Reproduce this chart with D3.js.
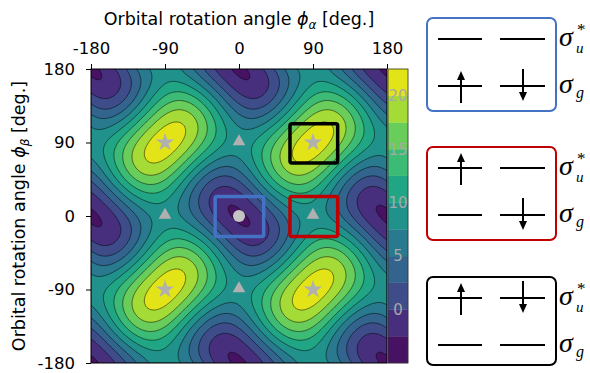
<!DOCTYPE html>
<html>
<head>
<meta charset="utf-8">
<script src="https://cdn.jsdelivr.net/npm/d3@7"></script>
<style>
  body { margin: 0; background: #fff; }
  svg { display: block; }
  text { font-family: "DejaVu Sans", sans-serif; }
</style>
</head>
<body>
<svg id="chart" width="590" height="373"></svg>
<script>
// --- data ---
const angleTicks = [-180, -90, 0, 90, 180];
const levels = [-5, -2.5, 0, 2.5, 5, 7.5, 10, 12.5, 15, 17.5, 20, 22.5];
const colorbarTicks = [0, 5, 10, 15, 20];

// energy at minimum / saddle / maximum, and the alpha-beta coupling term
const stationaryEnergy = [-2.8, 8.75, 21.5];
const coupling = [4.25];

const minima = [[0, 0]];
const saddles = [[0, 90], [0, -90], [90, 0], [-90, 0]];
const maxima = [[90, 90], [-90, 90], [90, -90], [-90, -90]];

// highlighted regions [phiA range, phiB range]
const boxPhiA = [[-29, 30], [62, 120], [62, 120]];
const boxPhiB = [[-25, 24], [-25, 24], [65, 113]];

// occupation diagrams: which level the alpha / beta electron sits in
const alphaLevel = ['g', 'u', 'u'];
const betaLevel = ['g', 'g', 'u'];

// ---------------------------------
const boxColours = ['#4472c4', '#c00000', '#000000'];
const markerColour = '#b0b0b0';

const svg = d3.select('#chart');
const plot = { left: 91, right: 387, top: 69, bottom: 363 };

const x = d3.scaleLinear().domain([-180, 180]).range([plot.left, plot.right]);
const y = d3.scaleLinear().domain([-180, 180]).range([plot.bottom, plot.top]);
const rad = Math.PI / 180;

function energy(a, b) {
  const [eMin, eSad, eMax] = stationaryEnergy;
  const sa = Math.sin(a) ** 2;
  const sb = Math.sin(b) ** 2;
  return eMin + (eSad - eMin) * (sa + sb) + (eMax - 2 * eSad + eMin) * sa * sb
    + coupling[0] * Math.sin(2 * a) * Math.sin(2 * b);
}

// grid, 1 degree step
const n = 361;
const grid = new Float64Array(n * n);
for (let j = 0; j < n; j++) {
  for (let i = 0; i < n; i++) {
    grid[j * n + i] = energy((-180 + i) * rad, (-180 + j) * rad);
  }
}

const contours = d3.contours().size([n, n]).thresholds(levels)(grid);

const path = d3.geoPath(d3.geoTransform({
  point(cx, cy) {
    this.stream.point(x(-180 + cx - 0.5), y(-180 + cy - 0.5));
  }
}));

const bandColour = (i) => d3.interpolateViridis((i + 0.5) / (levels.length - 1));

svg.append('clipPath').attr('id', 'clip')
  .append('rect')
  .attr('x', plot.left).attr('y', plot.top)
  .attr('width', plot.right - plot.left).attr('height', plot.bottom - plot.top);

const g = svg.append('g').attr('clip-path', 'url(#clip)');

g.selectAll('path.band')
  .data(contours.slice(0, levels.length - 1))
  .join('path')
  .attr('class', 'band')
  .attr('d', path)
  .attr('fill', (d, i) => bandColour(i))
  .attr('stroke', (d, i) => bandColour(i))
  .attr('stroke-width', 0.3);

g.selectAll('path.line')
  .data(contours.slice(1, levels.length - 1))
  .join('path')
  .attr('class', 'line')
  .attr('d', path)
  .attr('fill', 'none')
  .attr('stroke', '#000')
  .attr('stroke-opacity', 0.75)
  .attr('stroke-width', 0.7);

// stationary point markers
const sym = (type, size) => d3.symbol().type(type).size(size)();
g.selectAll('path.star')
  .data(maxima).join('path')
  .attr('transform', (d) => `translate(${x(d[0])},${y(d[1])})`)
  .attr('d', sym(d3.symbolStar, 105))
  .attr('fill', markerColour);
g.selectAll('path.tri')
  .data(saddles).join('path')
  .attr('transform', (d) => `translate(${x(d[0])},${y(d[1]) - 1})`)
  .attr('d', sym(d3.symbolTriangle, 70))
  .attr('fill', markerColour);
g.selectAll('circle.min')
  .data(minima).join('circle')
  .attr('cx', (d) => x(d[0])).attr('cy', (d) => y(d[1]))
  .attr('r', 6)
  .attr('fill', '#c4c4c4');

// highlight boxes
svg.selectAll('rect.hl')
  .data(boxPhiA).join('rect')
  .attr('x', (d) => x(d[0]))
  .attr('y', (d, i) => y(boxPhiB[i][1]))
  .attr('width', (d) => x(d[1]) - x(d[0]))
  .attr('height', (d, i) => y(boxPhiB[i][0]) - y(boxPhiB[i][1]))
  .attr('rx', 2)
  .attr('fill', 'none')
  .attr('stroke', (d, i) => boxColours[i])
  .attr('stroke-width', 3.5);

// frame
svg.append('rect')
  .attr('x', plot.left).attr('y', plot.top)
  .attr('width', plot.right - plot.left).attr('height', plot.bottom - plot.top)
  .attr('fill', 'none').attr('stroke', '#000').attr('stroke-width', 1);

const xAxis = svg.append('g')
  .attr('transform', `translate(0,${plot.top})`)
  .call(d3.axisTop(x).tickValues(angleTicks).tickSize(5).tickPadding(10).tickFormat(d3.format('d')));
const yAxis = svg.append('g')
  .attr('transform', `translate(${plot.left},0)`)
  .call(d3.axisLeft(y).tickValues(angleTicks).tickSize(5).tickPadding(11).tickFormat(d3.format('d')));
[xAxis, yAxis].forEach((ax) => {
  ax.select('.domain').remove();
  ax.selectAll('text')
    .text((d) => String(d))
    .attr('font-size', 16.5).attr('font-family', 'DejaVu Sans').attr('fill', '#000');
  ax.selectAll('line').attr('stroke', '#000');
});

// axis titles
const xt = svg.append('text')
  .attr('x', (plot.left + plot.right) / 2).attr('y', 25)
  .attr('text-anchor', 'middle').attr('font-size', 17.5);
xt.append('tspan').text('Orbital rotation angle ');
xt.append('tspan').attr('font-style', 'italic').text('\u03d5');
xt.append('tspan').attr('font-style', 'italic').attr('font-size', 12).attr('dy', 4).text('\u03b1');
xt.append('tspan').attr('dy', -4).text(' [deg.]');

const yt = svg.append('text')
  .attr('transform', `translate(25,${(plot.top + plot.bottom) / 2}) rotate(-90)`)
  .attr('text-anchor', 'middle').attr('font-size', 17.5);
yt.append('tspan').text('Orbital rotation angle ');
yt.append('tspan').attr('font-style', 'italic').text('\u03d5');
yt.append('tspan').attr('font-style', 'italic').attr('font-size', 12).attr('dy', 4).text('\u03b2');
yt.append('tspan').attr('dy', -4).text(' [deg.]');

// colour bar
const cb = { x: 388, w: 20 };
const cy = d3.scaleLinear().domain([levels[0], levels[levels.length - 1]]).range([plot.bottom, plot.top]);
svg.append('g').selectAll('rect')
  .data(levels.slice(0, -1)).join('rect')
  .attr('x', cb.x).attr('width', cb.w)
  .attr('y', (d, i) => cy(levels[i + 1]))
  .attr('height', (d, i) => cy(levels[i]) - cy(levels[i + 1]))
  .attr('fill', (d, i) => bandColour(i))
  .attr('stroke', (d, i) => bandColour(i)).attr('stroke-width', 0.3);
svg.append('rect')
  .attr('x', cb.x).attr('y', plot.top).attr('width', cb.w).attr('height', plot.bottom - plot.top)
  .attr('fill', 'none').attr('stroke', '#333').attr('stroke-width', 0.8);
svg.append('g').selectAll('text')
  .data(colorbarTicks).join('text')
  .attr('x', cb.x + 10).attr('y', (d) => cy(d))
  .attr('dy', '0.36em').attr('text-anchor', 'middle')
  .attr('font-size', 15).attr('fill', '#a8a8a8')
  .text((d) => d);

// occupation diagrams
const boxTop = [18, 147, 277];
const boxH = [93, 93, 88];
const lineOff = { u: 21, g: 68 };
const colX = [[438, 482], [500, 545]];
const arrowX = [461, 523];
const serif = '"Liberation Serif", "DejaVu Serif", serif';

const diag = svg.append('g');
boxTop.forEach((top, k) => {
  diag.append('rect')
    .attr('x', 427).attr('y', top).attr('width', 129).attr('height', boxH[k])
    .attr('rx', 6).attr('fill', 'none')
    .attr('stroke', boxColours[k]).attr('stroke-width', 2);
  ['u', 'g'].forEach((lv) => {
    colX.forEach((cx) => {
      diag.append('line')
        .attr('x1', cx[0]).attr('x2', cx[1])
        .attr('y1', top + lineOff[lv]).attr('y2', top + lineOff[lv])
        .attr('stroke', '#000').attr('stroke-width', 2);
    });
  });
  // alpha: up arrow, beta: down arrow
  [[alphaLevel[k], -1, arrowX[0]], [betaLevel[k], 1, arrowX[1]]].forEach(([lv, dir, ax]) => {
    const ly = top + lineOff[lv];
    const tail = ly - dir * 17;
    const tip = ly + dir * 15;
    diag.append('line')
      .attr('x1', ax).attr('x2', ax)
      .attr('y1', tail).attr('y2', tip - dir * 6)
      .attr('stroke', '#000').attr('stroke-width', 2);
    diag.append('path')
      .attr('d', `M${ax},${tip} L${ax - 4},${tip - dir * 9} L${ax + 4},${tip - dir * 9} Z`)
      .attr('fill', '#000');
  });
  // level labels
  const y0u = top + lineOff.u + 7;
  diag.append('text')
    .attr('x', 559).attr('y', y0u)
    .style('font-family', serif).attr('font-style', 'italic')
    .attr('font-size', 28).text('\u03c3');
  diag.append('text')
    .attr('x', 577).attr('y', y0u - 11)
    .style('font-family', serif)
    .attr('font-size', 17).text('*');
  diag.append('text')
    .attr('x', 576).attr('y', y0u + 7)
    .style('font-family', serif).attr('font-style', 'italic')
    .attr('font-size', 15).text('u');

  const y0g = top + lineOff.g + 7;
  diag.append('text')
    .attr('x', 559).attr('y', y0g)
    .style('font-family', serif).attr('font-style', 'italic')
    .attr('font-size', 28).text('\u03c3');
  diag.append('text')
    .attr('x', 576).attr('y', y0g + 5)
    .style('font-family', serif).attr('font-style', 'italic')
    .attr('font-size', 16).text('g');
});
</script>
</body>
</html>
